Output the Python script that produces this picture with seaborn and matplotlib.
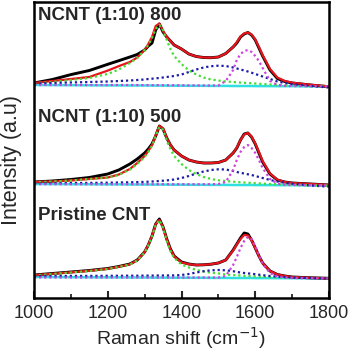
import numpy as np
import pandas as pd
import matplotlib
matplotlib.use("Agg")
import matplotlib.pyplot as plt
import seaborn as sns
from matplotlib.ticker import MultipleLocator

# Raman shift sampling positions (cm^-1)
shift = [1000, 1050, 1100, 1150, 1200, 1230, 1260, 1280, 1300, 1310, 1320, 1330, 1340,
         1350, 1360, 1370, 1380, 1400, 1420, 1440, 1460, 1480, 1500, 1520, 1540, 1550,
         1560, 1570, 1580, 1590, 1600, 1610, 1620, 1640, 1660, 1680, 1700, 1750, 1800]

samples = ["NCNT (1:10) 800", "NCNT (1:10) 500", "Pristine CNT"]
offsets = [211, 112, 19]

# ---- NCNT (1:10) 800 ----
n800_data = [4, 7.5, 12.4, 16.5, 22.7, 26.3, 30, 32.5, 37, 41, 44, 57, 63,
             55, 50, 46, 42, 38, 33, 30.5, 29.5, 29.3, 30, 33.5, 40, 44,
             50, 53, 54.5, 52, 47, 39, 31, 17, 8.5, 5.5, 4, 2, 0.3]
n800_fit = [4, 6, 8, 10, 16.4, 20.9, 25, 29.5, 37, 43, 50, 61, 63.5,
            56, 50, 46, 42, 38, 33, 30.5, 29.5, 29.3, 30, 33.5, 40, 45,
            50.5, 53.5, 54.5, 52.5, 47.5, 40, 32, 18, 9.5, 6, 4.3, 2.2, 0.5]
n800_D = [3.5, 5, 7, 9, 13, 17.5, 24, 29, 37, 42, 49, 58, 62,
          57, 47, 38, 31, 23, 16.5, 12.5, 9.5, 7.5, 6.5, 5.5, 5, 4.7,
          4.4, 4.2, 4, 3.8, 3.5, 3.2, 3, 2.5, 2, 1.7, 1.4, 0.8, 0.3]
n800_B = [3.5, 4, 4.5, 5, 5.5, 6, 6.5, 7, 7.5, 8, 8.3, 8.7, 9,
          9.5, 10, 10.5, 11, 12.5, 15, 17.5, 19.5, 20.8, 21.3, 21, 19.5, 18.5,
          17.5, 16.5, 15.5, 14.3, 13, 11.8, 10.5, 8, 5.5, 4, 2.8, 1, -0.5]
n800_G = [2, 2, 2, 2, 2, 2, 2, 2, 1.9, 1.9, 1.9, 1.9, 1.8,
          1.8, 1.8, 1.8, 1.7, 1.7, 1.6, 1.6, 1.5, 1.5, 1.5, 6, 17, 27,
          33, 36, 37, 35, 31, 26, 19, 6, 2, 1.2, 1, 0.8, 0.5]
n800_C = [2, 1.9, 1.8, 1.7, 1.6, 1.6, 1.5, 1.5, 1.5, 1.5, 1.4, 1.4, 1.4,
          1.4, 1.4, 1.3, 1.3, 1.3, 1.2, 1.2, 1.2, 1.1, 1.1, 1.1, 1, 1,
          1, 1, 1, 1, 0.9, 0.9, 0.9, 0.9, 0.8, 0.8, 0.8, 0.6, 0.5]

# ---- NCNT (1:10) 500 ----
n500_data = [4, 5, 6.5, 8.5, 12, 16, 22, 27, 33, 37, 42, 50, 60,
             57, 48, 41, 36, 30, 26, 24, 23, 23, 23.5, 26, 33, 38,
             46, 52, 53, 49, 42, 33, 24, 12, 6, 4, 3, 2, 1]
n500_fit = [4, 4.5, 5.5, 7, 8.5, 11.5, 17, 23, 30, 35, 41, 51, 60,
            57.5, 48, 41, 36, 30, 26, 24, 23, 23, 23.5, 26, 33, 38.5,
            46, 51.5, 53, 49.5, 42.5, 34, 25, 12.5, 6.3, 4, 3, 2, 1]
n500_D = [3.5, 4.5, 5.5, 7, 8.5, 11, 16.5, 22, 29, 34, 40, 50, 59,
          56, 45, 37, 30, 22, 16, 12, 9, 7, 5.7, 5, 4.3, 4,
          3.7, 3.5, 3.3, 3, 2.8, 2.6, 2.4, 2, 1.7, 1.4, 1.2, 0.8, 0.4]
n500_B = [2.5, 2.7, 2.9, 3.1, 3.3, 3.5, 3.7, 3.9, 4.1, 4.3, 4.5, 4.7, 5,
          5.3, 5.6, 6, 6.5, 8, 10, 12.5, 14.5, 16, 16.7, 16.5, 15, 14,
          13.2, 12.5, 11.7, 11, 10, 9, 8, 6, 4.5, 3.2, 2.2, 0.5, -0.7]
n500_G = [1.8, 1.8, 1.8, 1.8, 1.8, 1.8, 1.8, 1.8, 1.8, 1.8, 1.8, 1.8, 1.8,
          1.8, 1.8, 1.8, 1.8, 1.8, 1.8, 1.8, 1.8, 1.8, 2, 4, 16, 26,
          34, 39, 41, 38, 33, 26, 18, 7, 2.5, 1.3, 1, 0.7, 0.5]
n500_C = [2, 1.9, 1.8, 1.7, 1.6, 1.6, 1.5, 1.5, 1.5, 1.5, 1.4, 1.4, 1.4,
          1.4, 1.4, 1.3, 1.3, 1.3, 1.2, 1.2, 1.2, 1.1, 1.1, 1.1, 1, 1,
          1, 1, 1, 1, 0.9, 0.9, 0.9, 0.9, 0.8, 0.8, 0.8, 0.6, 0.5]

# ---- Pristine CNT ----
pr_data = [4, 5.5, 7, 8.5, 10.5, 12.5, 15, 19, 27, 34, 43, 55, 60,
           52, 40, 30, 23, 17, 15, 14, 14.2, 14.8, 16, 19, 29, 35,
           41, 46, 45, 39, 31, 23, 16, 8, 4.5, 3, 2, 1.2, 0.7]
pr_fit = [3.8, 5.2, 6.7, 8.2, 10.2, 12.2, 14.7, 18.7, 27, 34, 43, 55, 59,
          51.5, 39.5, 29.5, 22.5, 16.5, 14.8, 14, 14.2, 14.8, 16, 19, 28.5, 34.5,
          40, 44, 43.5, 38.5, 31, 23, 16, 8, 4.5, 3, 2, 1.2, 0.7]
pr_D = [3.5, 5, 6.5, 8, 10, 12, 14.5, 18.5, 26.5, 33.5, 42.5, 54, 59,
        51, 38, 28, 21, 14.5, 11.5, 9, 7.5, 6.3, 5.5, 4.5, 4, 3.7,
        3.5, 3.2, 3, 2.8, 2.6, 2.4, 2.2, 1.9, 1.6, 1.4, 1.2, 0.9, 0.6]
pr_B = [3, 3, 3.1, 3.1, 3.2, 3.2, 3.3, 3.3, 3.4, 3.4, 3.4, 3.5, 3.5,
        3.5, 3.5, 3.6, 3.6, 4, 5, 6.5, 7.8, 8.7, 9, 8.7, 7.8, 7,
        6.5, 6, 5.6, 5.2, 4.8, 4.3, 3.8, 3, 2.4, 1.9, 1.5, 1, 0.6]
pr_G = [1.5, 1.5, 1.5, 1.5, 1.5, 1.5, 1.5, 1.5, 1.5, 1.5, 1.5, 1.5, 1.5,
        1.5, 1.5, 1.5, 1.5, 1.5, 1.5, 1.5, 1.5, 1.5, 1.5, 3, 14, 22,
        31, 38, 42, 40, 33, 24, 15, 6, 2.5, 1.5, 1, 0.7, 0.5]
pr_C = [2, 1.9, 1.8, 1.7, 1.6, 1.6, 1.5, 1.5, 1.5, 1.5, 1.4, 1.4, 1.4,
        1.4, 1.4, 1.3, 1.3, 1.3, 1.2, 1.2, 1.2, 1.1, 1.1, 1.1, 1, 1,
        1, 1, 1, 1, 0.9, 0.9, 0.9, 0.9, 0.8, 0.8, 0.8, 0.6, 0.5]

panels = [
    dict(data=n800_data, fit=n800_fit, D=n800_D, B=n800_B, G=n800_G, C=n800_C),
    dict(data=n500_data, fit=n500_fit, D=n500_D, B=n500_B, G=n500_G, C=n500_C),
    dict(data=pr_data, fit=pr_fit, D=pr_D, B=pr_B, G=pr_G, C=pr_C),
]
label_y = [283, 181, 83]

sns.set_theme(style="ticks")
plt.rcParams['font.family'] = ['Liberation Sans', 'DejaVu Sans']

fig = plt.figure(figsize=(3.5, 3.53), dpi=100)
ax = fig.add_axes([34/350, 55/353, 295/350, 296/353])

dot = (0, (1, 1.3))
for name, off, p, ly in zip(samples, offsets, panels, label_y):
    x = np.array(shift)
    sns.lineplot(x=x, y=np.array(p["C"]) + off, ax=ax, color="#30e0e0", lw=1.8, sort=False)
    sns.lineplot(x=x, y=np.array(p["data"]) + off, ax=ax, color="black", lw=2.1, sort=False)
    sns.lineplot(x=x, y=np.array(p["fit"]) + off, ax=ax, color="#e8141c", lw=1.6, sort=False)
    sns.lineplot(x=x, y=np.array(p["D"]) + off, ax=ax, color="#44dd33", lw=1.6, ls=dot, sort=False)
    sns.lineplot(x=x, y=np.array(p["B"]) + off, ax=ax, color="#1c1ca8", lw=1.6, ls=dot, sort=False)
    sns.lineplot(x=x, y=np.array(p["G"]) + off, ax=ax, color="#cc44dd", lw=1.6, ls=dot, sort=False)
    ax.text(1010, ly, name, fontsize=13.5, fontweight="bold", va="center", ha="left")

ax.set_xlim(1000, 1800)
ax.set_ylim(0, 296)
ax.xaxis.set_major_locator(MultipleLocator(200))
ax.xaxis.set_minor_locator(MultipleLocator(100))
ax.set_yticks([])
ax.tick_params(axis="x", which="major", direction="in", length=5, width=1.5, labelsize=13, pad=5)
ax.tick_params(axis="x", which="minor", direction="in", length=3, width=1.3)
for s in ax.spines.values():
    s.set_linewidth(1.8)
    s.set_color("black")
ax.set_xlabel("Raman shift (cm$^{-1}$)", fontsize=14, labelpad=2)
ax.set_ylabel("Intensity (a.u)", fontsize=15.5)
ax.yaxis.set_label_coords(-12/295, (298 - 160) / 296)

fig.savefig("out.png", dpi=100)
